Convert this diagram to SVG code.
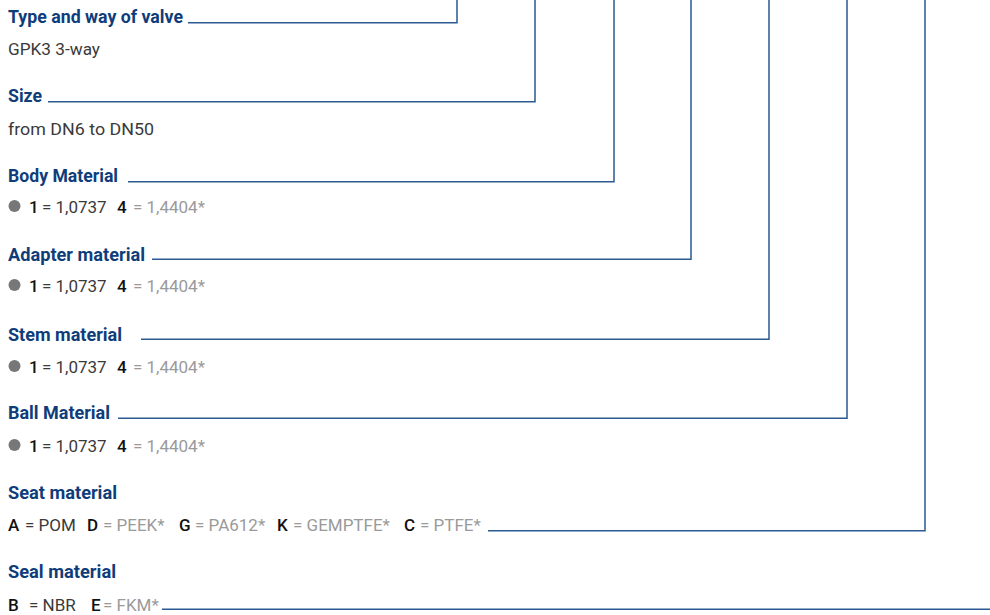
<svg xmlns="http://www.w3.org/2000/svg" width="990" height="615" viewBox="0 0 990 615">
<style>
.h{font-family:Roboto,"Liberation Sans",sans-serif;font-weight:700;font-size:17.5px;fill:#0f3d7a}
.v{font-family:Roboto,"Liberation Sans",sans-serif;font-weight:400;font-size:17px;fill:#3a3a3a}
.k{font-weight:500;fill:#111}
.g{fill:#9a9a9a}
.dot{fill:#777}
.c{fill:none;stroke:#2b5a93;stroke-width:1.5}
</style>
<rect width="990" height="615" fill="#fff"/>
<g id="type">
<text class="h" x="8" y="23" textLength="175" lengthAdjust="spacingAndGlyphs">Type and way of valve</text>
<text class="v" x="8" y="55" textLength="92" lengthAdjust="spacingAndGlyphs">GPK3 3-way</text>
</g>
<g id="size">
<text class="h" x="8" y="102" textLength="34" lengthAdjust="spacingAndGlyphs">Size</text>
<text class="v" x="8" y="135" textLength="146" lengthAdjust="spacingAndGlyphs">from DN6 to DN50</text>
</g>
<g id="body">
<text class="h" x="8" y="182" textLength="110" lengthAdjust="spacingAndGlyphs">Body Material</text>
<circle class="dot" cx="14.5" cy="206" r="6"/>
<text class="v" y="213"><tspan class="k" x="29">1</tspan><tspan x="42">= 1,0737</tspan><tspan class="k" x="117">4</tspan><tspan class="g" x="133">= 1,4404*</tspan></text>
</g>
<g id="adapter">
<text class="h" x="8" y="261" textLength="137" lengthAdjust="spacingAndGlyphs">Adapter material</text>
<circle class="dot" cx="14.5" cy="285" r="6"/>
<text class="v" y="292"><tspan class="k" x="29">1</tspan><tspan x="42">= 1,0737</tspan><tspan class="k" x="117">4</tspan><tspan class="g" x="133">= 1,4404*</tspan></text>
</g>
<g id="stem">
<text class="h" x="8" y="341" textLength="114" lengthAdjust="spacingAndGlyphs">Stem material</text>
<circle class="dot" cx="14.5" cy="366" r="6"/>
<text class="v" y="373"><tspan class="k" x="29">1</tspan><tspan x="42">= 1,0737</tspan><tspan class="k" x="117">4</tspan><tspan class="g" x="133">= 1,4404*</tspan></text>
</g>
<g id="ball">
<text class="h" x="8" y="419" textLength="102" lengthAdjust="spacingAndGlyphs">Ball Material</text>
<circle class="dot" cx="14.5" cy="445" r="6"/>
<text class="v" y="452"><tspan class="k" x="29">1</tspan><tspan x="42">= 1,0737</tspan><tspan class="k" x="117">4</tspan><tspan class="g" x="133">= 1,4404*</tspan></text>
</g>
<g id="seat">
<text class="h" x="8" y="499" textLength="109" lengthAdjust="spacingAndGlyphs">Seat material</text>
<text class="v" y="531"><tspan class="k" x="8">A</tspan><tspan x="25">= POM</tspan><tspan class="k" x="87">D</tspan><tspan class="g" x="103">= PEEK*</tspan><tspan class="k" x="179">G</tspan><tspan class="g" x="195">= PA612*</tspan><tspan class="k" x="277">K</tspan><tspan class="g" x="293">= GEMPTFE*</tspan><tspan class="k" x="404">C</tspan><tspan class="g" x="420">= PTFE*</tspan></text>
</g>
<g id="seal">
<text class="h" x="8" y="578" textLength="108" lengthAdjust="spacingAndGlyphs">Seal material</text>
<text class="v" y="611"><tspan class="k" x="8">B</tspan><tspan x="29">= NBR</tspan><tspan class="k" x="91">E</tspan><tspan class="g" x="103">= FKM*</tspan></text>
</g>
<g id="connectors">
<path class="c" d="M188,22.7H457V0"/>
<path class="c" d="M48,101.7H535V0"/>
<path class="c" d="M128,181.7H614V0"/>
<path class="c" d="M152,259.3H691V0"/>
<path class="c" d="M141,339.3H769V0"/>
<path class="c" d="M118,418.3H847V0"/>
<path class="c" d="M488,530.7H925V0"/>
<path class="c" d="M162,609.3H990"/>
</g>
</svg>
